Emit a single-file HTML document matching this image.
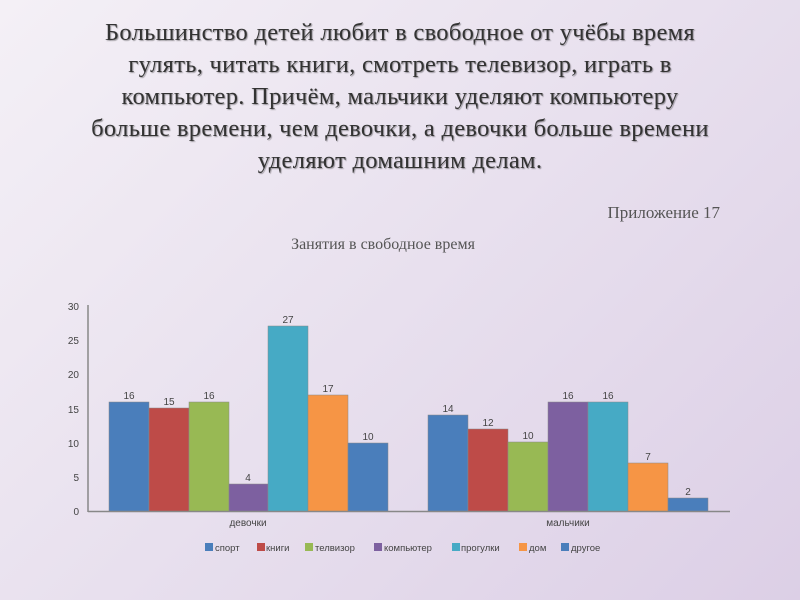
<!DOCTYPE html>
<html><head><meta charset="utf-8"><style>
html,body{margin:0;padding:0}
body{width:800px;height:600px;overflow:hidden;position:relative;background:linear-gradient(135deg,#f4f0f6 0%,#e8e0ee 50%,#dccfe6 100%);font-family:"Liberation Serif",serif}
.t{position:absolute;left:0;width:800px;top:17px;text-align:center;font-size:24.5px;line-height:32px;color:#333;font-weight:normal;text-shadow:1px 1px 1px rgba(0,0,0,.35);letter-spacing:0.3px}
.ap{position:absolute;right:80px;top:203px;font-size:17px;color:#555}
.ct{position:absolute;left:0;width:766px;top:236px;text-align:center;font-size:16px;color:#555}
</style></head><body>
<div class="t">Большинство детей любит в свободное от учёбы время<br>гулять, читать книги, смотреть телевизор, играть в<br>компьютер. Причём, мальчики уделяют компьютеру<br>больше времени, чем девочки, а девочки больше времени<br>уделяют домашним делам.</div>
<div class="ap">Приложение 17</div>
<div class="ct">Занятия в свободное время</div>
<svg width="800" height="600" style="position:absolute;left:0;top:0" font-family="Liberation Sans, sans-serif">
<g font-size="10" fill="#444" text-anchor="end">
<text x="79" y="310">30</text><text x="79" y="344">25</text><text x="79" y="378">20</text><text x="79" y="413">15</text><text x="79" y="447">10</text><text x="79" y="481">5</text><text x="79" y="515">0</text>
</g>
<line x1="88" y1="305" x2="88" y2="512" stroke="#888" stroke-width="1.5"/>
<line x1="88" y1="511.5" x2="730" y2="511.5" stroke="#888" stroke-width="1.5"/>
<g stroke="#888" stroke-width="0.5">
<rect x="109" y="402" width="40" height="109" fill="#4a7ebb"/>
<rect x="149" y="408" width="40" height="103" fill="#be4b48"/>
<rect x="189" y="402" width="40" height="109" fill="#98b954"/>
<rect x="229" y="484" width="39" height="27" fill="#7d60a0"/>
<rect x="268" y="326" width="40" height="185" fill="#46aac5"/>
<rect x="308" y="395" width="40" height="116" fill="#f69545"/>
<rect x="348" y="443" width="40" height="68" fill="#4a7ebb"/>
<rect x="428" y="415" width="40" height="96" fill="#4a7ebb"/>
<rect x="468" y="429" width="40" height="82" fill="#be4b48"/>
<rect x="508" y="442" width="40" height="69" fill="#98b954"/>
<rect x="548" y="402" width="40" height="109" fill="#7d60a0"/>
<rect x="588" y="402" width="40" height="109" fill="#46aac5"/>
<rect x="628" y="463" width="40" height="48" fill="#f69545"/>
<rect x="668" y="498" width="40" height="13" fill="#4a7ebb"/>
</g>
<g font-size="10" fill="#444" text-anchor="middle">
<text x="129" y="399">16</text><text x="169" y="405">15</text><text x="209" y="399">16</text><text x="248" y="481">4</text><text x="288" y="323">27</text><text x="328" y="392">17</text><text x="368" y="440">10</text>
<text x="448" y="412">14</text><text x="488" y="426">12</text><text x="528" y="439">10</text><text x="568" y="399">16</text><text x="608" y="399">16</text><text x="648" y="460">7</text><text x="688" y="495">2</text>
<text x="248" y="526">девочки</text><text x="568" y="526">мальчики</text>
</g>
<g font-size="9.5" fill="#444">
<rect x="205" y="543" width="8" height="8" fill="#4a7ebb"/><text x="215" y="551">спорт</text>
<rect x="257" y="543" width="8" height="8" fill="#be4b48"/><text x="266" y="551">книги</text>
<rect x="305" y="543" width="8" height="8" fill="#98b954"/><text x="315" y="551">телвизор</text>
<rect x="374" y="543" width="8" height="8" fill="#7d60a0"/><text x="384" y="551">компьютер</text>
<rect x="452" y="543" width="8" height="8" fill="#46aac5"/><text x="461" y="551">прогулки</text>
<rect x="519" y="543" width="8" height="8" fill="#f69545"/><text x="529" y="551">дом</text>
<rect x="561" y="543" width="8" height="8" fill="#4a7ebb"/><text x="571" y="551">другое</text>
</g>
</svg>
</body></html>
